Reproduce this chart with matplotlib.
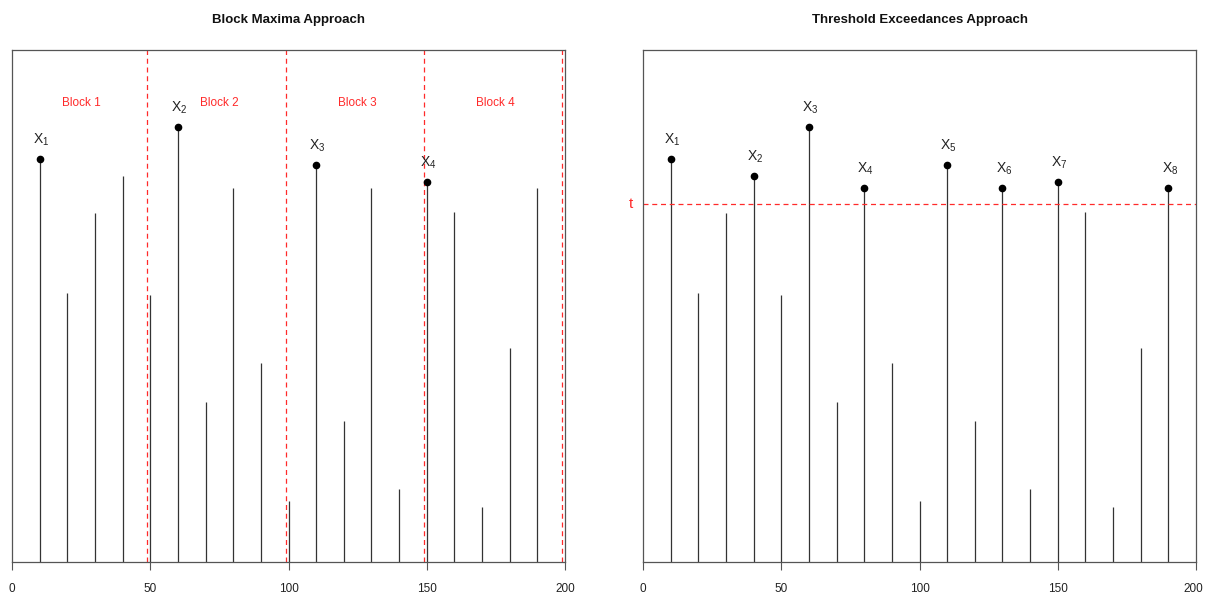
import matplotlib.pyplot as plt
from matplotlib.transforms import blended_transform_factory, ScaledTranslation

# ================= data =================
X_POS = [10, 20, 30, 40, 50, 60, 70, 80, 90, 100,
         110, 120, 130, 140, 150, 160, 170, 180, 190]
HEIGHTS = [403, 269, 349, 386, 267, 435, 160, 374, 199, 61,
           397, 141, 374, 73, 380, 350, 55, 214, 374]

BLOCK_EDGES = [49, 99, 149, 199]
BLOCK_NAMES = ["Block 1", "Block 2", "Block 3", "Block 4"]
BLOCK_CENTERS = [25, 75, 125, 175]
BLOCK_LABEL_Y = 459

THRESHOLD = 358
Y_MAX = 512
X_TICKS = [0, 50, 100, 150, 200]

TITLES = ["Block Maxima Approach", "Threshold Exceedances Approach"]

plt.rcParams["font.family"] = ["Liberation Sans Narrow", "Liberation Sans", "DejaVu Sans"]
plt.rcParams["mathtext.fontset"] = "custom"
plt.rcParams["mathtext.rm"] = "Liberation Sans"
plt.rcParams["mathtext.it"] = "Liberation Sans"

W, H = 1205, 593
fig = plt.figure(figsize=(W / 100, H / 100), dpi=100)

BOX_COLOR = "#555555"
RED = "#ff2a2a"


def setup_axes(ax):
    ax.set_xlim(0, 200)
    ax.set_ylim(0, Y_MAX)
    ax.set_yticks([])
    ax.set_xticks(X_TICKS)
    ax.set_xticklabels([str(t) for t in X_TICKS], fontsize=8.5, color="#222222")
    ax.tick_params(axis="x", length=6, width=0.8, color=BOX_COLOR, pad=9)
    for s in ax.spines.values():
        s.set_color(BOX_COLOR)
        s.set_linewidth(0.9)


def draw_stems(ax):
    ax.vlines(X_POS, 0, HEIGHTS, colors="#333333", linewidth=0.9)


def mark_point(ax, x, y, k):
    ax.plot(x, y, "o", color="black", markersize=4.5, zorder=4)
    ax.annotate(r"$\mathregular{X_{%d}}$" % k, (x, y), xytext=(1, 14),
                textcoords="offset points", ha="center", va="center",
                fontsize=10, color="#222222")


# ================= 1. block maxima =================
ax1 = fig.add_axes([12 / W, 31 / H, 553 / W, 512 / H])
setup_axes(ax1)
draw_stems(ax1)

for edge in BLOCK_EDGES:
    ax1.axvline(edge, color=RED, linestyle=(0, (4, 3)), linewidth=0.9)

for name, cx in zip(BLOCK_NAMES, BLOCK_CENTERS):
    ax1.text(cx, BLOCK_LABEL_Y, name, color=RED, fontsize=8.5,
             ha="center", va="center")

# maximum of each block
starts = [0] + BLOCK_EDGES[:-1]
k = 1
for lo, hi in zip(starts, BLOCK_EDGES):
    idx = [i for i, x in enumerate(X_POS) if lo < x <= hi + 1]
    best = max(idx, key=lambda i: HEIGHTS[i])
    mark_point(ax1, X_POS[best], HEIGHTS[best], k)
    k += 1

# ================= 2. threshold exceedances =================
ax2 = fig.add_axes([643 / W, 31 / H, 553 / W, 512 / H])
setup_axes(ax2)
draw_stems(ax2)

ax2.axhline(THRESHOLD, color=RED, linestyle=(0, (4, 3)), linewidth=0.9)
trans = blended_transform_factory(ax2.transAxes, ax2.transData)
ax2.text(-0.022, THRESHOLD, "t", transform=trans, color=RED, fontsize=11,
         ha="center", va="center", clip_on=False)

k = 1
for x, h in zip(X_POS, HEIGHTS):
    if h > THRESHOLD:
        mark_point(ax2, x, h, k)
        k += 1

# keep the last tick label inside the figure
last = ax2.get_xticklabels()[-1]
last.set_transform(last.get_transform() + ScaledTranslation(-3 / 100, 0, fig.dpi_scale_trans))

# ================= titles =================
fig.text(288 / W, 1 - 20 / H, TITLES[0], ha="center", va="center",
         fontsize=9.5, fontweight="bold", color="#111111")
fig.text(920 / W, 1 - 20 / H, TITLES[1], ha="center", va="center",
         fontsize=9.5, fontweight="bold", color="#111111")

fig.savefig("out.png", dpi=100)
